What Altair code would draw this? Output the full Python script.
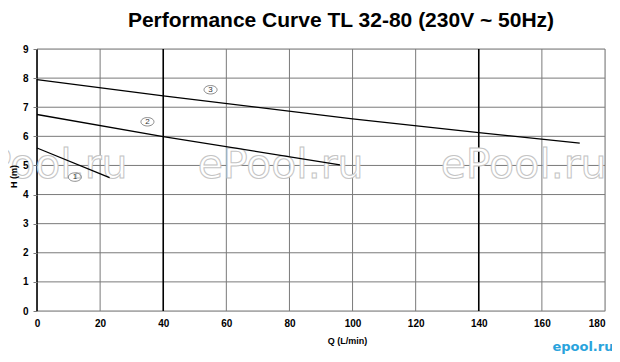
import altair as alt
import pandas as pd

# curve data
q1 = [0, 23]
h1 = [5.6, 4.58]
q2 = [0, 40, 96]
h2 = [6.75, 5.99, 5.02]
q3 = [0, 40, 100, 140, 172]
h3 = [7.95, 7.39, 6.6, 6.13, 5.77]

x_ticks = [0, 20, 40, 60, 80, 100, 120, 140, 160, 180]
y_ticks = [0, 1, 2, 3, 4, 5, 6, 7, 8, 9]
major_x = [0, 40, 140]

label_names = ["1", "2", "3"]
label_q = [12, 35, 55]
label_h = [4.6, 6.5, 7.6]

wm_text = ["ePool.ru", "ePool.ru", "ePool.ru"]
wm_q = [2.4, 77.2, 154.2]
wm_h = [4.57, 4.57, 4.57]

W, H = 568, 262
FONT = "Liberation Sans"

curves = pd.concat([
    pd.DataFrame({"Q": q1, "H": h1, "curve": "1"}),
    pd.DataFrame({"Q": q2, "H": h2, "curve": "2"}),
    pd.DataFrame({"Q": q3, "H": h3, "curve": "3"}),
])
xg = pd.DataFrame({"Q": x_ticks, "major": [v in major_x for v in x_ticks]})
yg = pd.DataFrame({"H": y_ticks})
labs = pd.DataFrame({"Q": label_q, "H": label_h, "t": label_names})
wm = pd.DataFrame({"Q": wm_q, "H": wm_h, "t": wm_text})
logo = pd.DataFrame({"Q": [173], "H": [-1.24], "t": ["epool.ru"]})

xs = alt.Scale(domain=[0, 180], nice=False, zero=False)
ys = alt.Scale(domain=[0, 9], nice=False, zero=False)

xax = alt.Axis(values=x_ticks, grid=False, domain=False, ticks=False, labelFontWeight="bold",
               labelFont=FONT, labelFontSize=10, labelColor="black", labelPadding=7,
               labelOverlap=False, labelFlush=False,
               labelAlign={"condition": {"test": "datum.value >= 180", "value": "right"},
                           "value": "center"},
               title="Q (L/min)", titleFont=FONT, titleFontSize=9, titleFontWeight="bold",
               titleColor="black", titlePadding=8, titleX=310)
yax = alt.Axis(values=y_ticks, grid=False, domain=False, ticks=True, tickSize=4,
               tickColor="#7a7a7a", labelFontWeight="bold", zindex=1,
               labelFont=FONT, labelFontSize=10, labelColor="black", labelPadding=5,
               labelOverlap=False, labelFlush=False,
               title="H (m)", titleFont=FONT, titleFontSize=9, titleFontWeight="bold",
               titleColor="black", titleX=-24, titleY=127, titleBaseline="middle", titleAlign="center")


def X(f="Q:Q"):
    return alt.X(f, scale=xs, axis=xax)


def Y(f="H:Q"):
    return alt.Y(f, scale=ys, axis=yax)


hgrid = alt.Chart(yg).mark_rule(color="#7a7a7a", strokeWidth=1).encode(
    y=Y(), x=alt.value(0), x2=alt.value(W))

vgrid = alt.Chart(xg).mark_rule().encode(
    x=X(), y=alt.value(0), y2=alt.value(H),
    color=alt.condition("datum.major", alt.value("#000000"), alt.value("#7a7a7a")),
    strokeWidth=alt.condition("datum.major", alt.value(1.6), alt.value(1)))

wmark = alt.Chart(wm).mark_text(font="DejaVu Sans", fontSize=41, fill="white", stroke="#c4c4c4",
                                strokeWidth=1, baseline="alphabetic", align="center").encode(
    x=X(), y=Y(), text="t:N")

lines = alt.Chart(curves).mark_line(color="black", strokeWidth=1.3).encode(
    x=X(), y=Y(), detail="curve:N")

ell = alt.Chart(labs).mark_point(
    shape="M-1,0A1,0.65 0 1,1 1,0A1,0.65 0 1,1 -1,0Z", size=170, filled=False,
    color="#333333", strokeWidth=0.8).encode(x=X(), y=Y())

nums = alt.Chart(labs).mark_text(font=FONT, fontSize=8, color="#333333", baseline="middle").encode(
    x=X(), y=Y(), text="t:N")

logo_t = alt.Chart(logo).mark_text(font="DejaVu Sans", fontSize=13, fontWeight="bold",
                                   color="#29a3dc", baseline="middle").encode(
    x=X(), y=Y(), text="t:N")

chart = alt.layer(hgrid, vgrid, wmark, lines, ell, nums, logo_t).properties(
    width=W, height=H,
    autosize=alt.AutoSizeParams(type="none"),
    padding={"left": 29, "top": 41, "right": 7, "bottom": 46},
    title=alt.TitleParams("Performance Curve TL 32-80 (230V ~ 50Hz)", font=FONT, fontSize=21,
                          fontWeight="bold", color="black", anchor="middle", dx=20, offset=13),
).configure_view(stroke=None).configure(background="white")

chart.save("out.html", embed_options={"renderer": "svg", "actions": False})
